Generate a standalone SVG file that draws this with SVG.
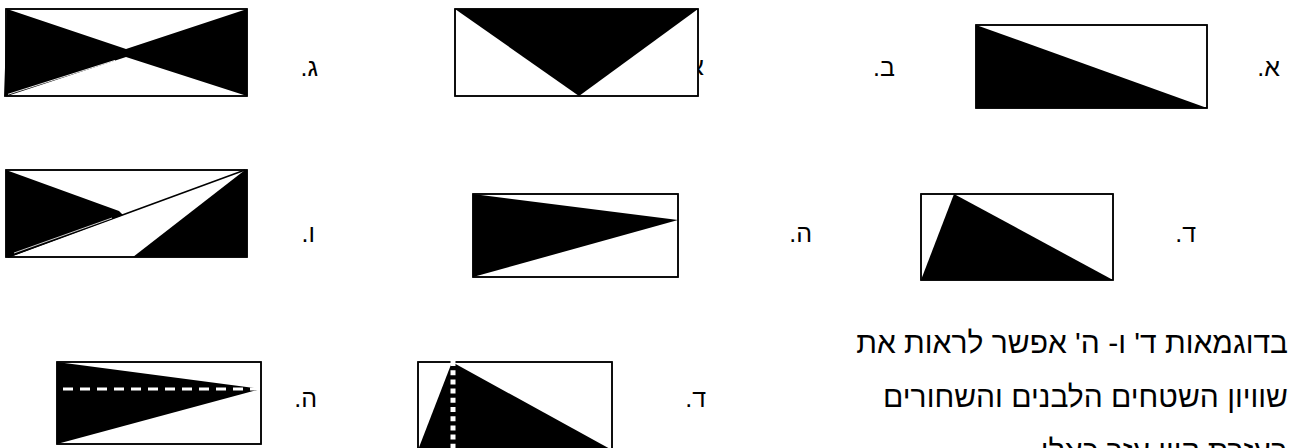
<svg xmlns="http://www.w3.org/2000/svg" width="1297" height="448" viewBox="0 0 1297 448">
<style>
.frame{fill:#fff;stroke:#000;stroke-width:1.5}
.edge{fill:none;stroke:#000;stroke-width:1.5}
.blk{fill:#000;stroke:none}
.lbl{font-family:"Liberation Sans",Arial,sans-serif;font-size:25px;fill:#000}
.txt{font-family:"Liberation Sans",Arial,sans-serif;font-size:30px;fill:#000}
</style>
<rect width="1297" height="448" fill="#fff"/>
<!-- Row 1 -->
<g id="fig-gimel">
<rect class="frame" x="6" y="9" width="241" height="87"/>
<polygon class="blk" points="7,9 126,49 247,9 247,96 126,57 4,97"/>
<line x1="8" y1="94.3" x2="115" y2="60.4" stroke="#fff" stroke-width="0.9"/>
<rect class="edge" x="6" y="9" width="241" height="87"/>
</g>
<g id="lbl-gimel"><text class="lbl" x="318" y="76" direction="rtl" text-anchor="start">ג.</text></g>
<g id="hidden-alef"><text class="lbl" x="704" y="75" direction="rtl" text-anchor="start">א</text></g>
<g id="fig-bet">
<rect class="frame" x="455" y="9" width="243" height="87"/>
<polygon class="blk" points="455,9 698,9 579,96"/>
<rect class="edge" x="455" y="9" width="243" height="87"/>
</g>
<g id="lbl-bet"><text class="lbl" x="895" y="76" direction="rtl" text-anchor="start">ב.</text></g>
<g id="fig-alef">
<rect class="frame" x="976" y="25" width="231" height="83"/>
<polygon class="blk" points="976,25 976,108 1207,108"/>
<rect class="edge" x="976" y="25" width="231" height="83"/>
</g>
<g id="lbl-alef"><text class="lbl" x="1280" y="76" direction="rtl" text-anchor="start">א.</text></g>
<!-- Row 2 -->
<g id="fig-vav">
<rect class="frame" x="6" y="170" width="241" height="87"/>
<polygon class="blk" points="6,170 119,211 123,215 10,257 6,257"/>
<polygon class="blk" points="245,170 247,170 247,257 133,257"/>
<line x1="8" y1="257" x2="245" y2="170" stroke="#000" stroke-width="1.6"/>
<line x1="14" y1="253" x2="112" y2="218" stroke="#fff" stroke-width="0.8"/>
<rect class="edge" x="6" y="170" width="241" height="87"/>
</g>
<g id="lbl-vav"><text class="lbl" x="315" y="242" direction="rtl" text-anchor="start">ו.</text></g>
<g id="fig-he">
<rect class="frame" x="473" y="194" width="205" height="83"/>
<polygon class="blk" points="473,194 473,277 678,220"/>
<rect class="edge" x="473" y="194" width="205" height="83"/>
</g>
<g id="lbl-he"><text class="lbl" x="812" y="242" direction="rtl" text-anchor="start">ה.</text></g>
<g id="fig-dalet">
<rect class="frame" x="921" y="194" width="192" height="86"/>
<polygon class="blk" points="954,194 921,280 1113,280"/>
<rect class="edge" x="921" y="194" width="192" height="86"/>
</g>
<g id="lbl-dalet"><text class="lbl" x="1196" y="242" direction="rtl" text-anchor="start">ד.</text></g>
<!-- Row 3 -->
<g id="fig-he2">
<rect class="frame" x="57" y="362" width="204" height="82"/>
<polygon class="blk" points="57,362 57,444 261,389"/>
<rect class="edge" x="57" y="362" width="204" height="82"/>
<line x1="63" y1="389" x2="261" y2="389" stroke="#fff" stroke-width="3" stroke-dasharray="10 7"/>
</g>
<g id="lbl-he2"><text class="lbl" x="317" y="407" direction="rtl" text-anchor="start">ה.</text></g>
<g id="fig-dalet2">
<rect class="frame" x="418" y="362" width="194" height="90"/>
<polygon class="blk" points="452,362 418,450 612,450"/>
<rect class="edge" x="418" y="362" width="194" height="90"/>
<line x1="453" y1="361" x2="453" y2="448" stroke="#fff" stroke-width="5" stroke-dasharray="5 4.2"/>
</g>
<g id="lbl-dalet2"><text class="lbl" x="706" y="407" direction="rtl" text-anchor="start">ד.</text></g>
<g id="paragraph">
<text class="txt" x="1288" y="353" direction="rtl" text-anchor="start">בדוגמאות ד' ו- ה' אפשר לראות את</text>
<text class="txt" x="1288" y="407" direction="rtl" text-anchor="start">שוויון השטחים הלבנים והשחורים</text>
<text class="txt" x="1288" y="461" direction="rtl" text-anchor="start">בעזרת קווי עזר כאלו</text>
</g>
</svg>
